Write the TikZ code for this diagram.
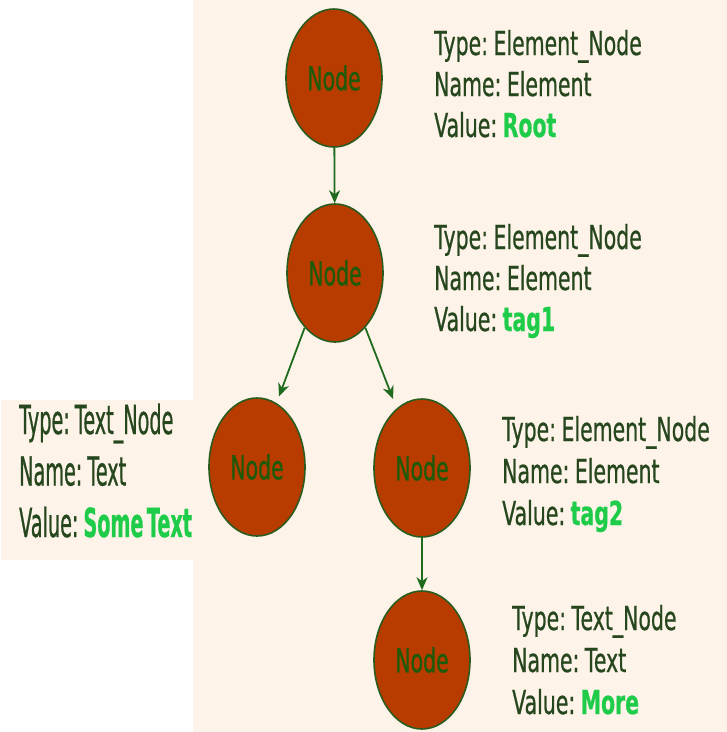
\documentclass[tikz,border=0pt]{standalone}
\usepackage{fontspec}
\usetikzlibrary{shapes.geometric,arrows.meta}
\newfontfamily\diagfont[FakeStretch=0.62, FakeBold=0.6, WordSpace=0.5]{DejaVu Sans}
\newfontfamily\tallfont[FakeStretch=0.48, FakeBold=0.6, WordSpace=0.5]{DejaVu Sans}
\definecolor{cream}{HTML}{FDF3E8}
\definecolor{rust}{HTML}{B83C00}
\definecolor{rim}{HTML}{2A5A1E}
\definecolor{nodetxt}{HTML}{1E5A0A}
\definecolor{txt}{HTML}{26461E}
\definecolor{val}{HTML}{1FCC4A}
\definecolor{edge}{HTML}{1E6B1E}
\tikzset{
  treenode/.style={ellipse, draw=rim, line width=1.6pt, fill=rust,
    minimum width=96pt, minimum height=138pt, inner sep=0pt,
    text=nodetxt, font=\diagfont\fontsize{33}{33}\selectfont},
  lbl/.style={anchor=base west, inner sep=0pt, text=txt,
    font=\diagfont\fontsize{33}{33}\selectfont},
  tall/.style={lbl/.append style={font=\tallfont\fontsize{40}{40}\selectfont}},
  link/.style={draw=edge, line width=1.8pt,
    -{Stealth[length=13pt,width=11pt,inset=4pt]}},
}
% info block: name, x, first baseline, line step, type, name, value
\newcommand\infoblock[7]{%
  \node[lbl] (#1a) at (#2,#3) {Type: #5};
  \node[lbl] (#1b) at (#2,{#3+#4}) {Name: #6};
  \node[lbl] (#1c) at (#2,{#3+2*#4}) {Value: \textcolor{val}{\bfseries #7}};
}
\begin{document}
\begin{tikzpicture}[x=1pt,y=-1pt]
  \fill[white] (0,0) rectangle (727,732);
  \useasboundingbox (0,0) rectangle (727,732);
  % cream panels
  \fill[cream] (193,0) rectangle (727,732);
  \fill[cream] (1,400) rectangle (193,560);

  % tree nodes
  \node[treenode] (n1) at (334,78)  {Node};
  \node[treenode] (n2) at (335,273) {Node};
  \node[treenode] (n3) at (257,467) {Node};
  \node[treenode] (n4) at (422,468) {Node};
  \node[treenode] (n5) at (422,660) {Node};

  % connectors
  \draw[link] (n1) -- (n2);
  \draw[link, shorten >=7pt] (n2.241) -- (n3.73);
  \draw[link, shorten >=10pt] (n2.299) -- (n4.113);
  \draw[link] (n4) -- (n5);

  % node descriptions
  \infoblock{d1}{434}{55}{41}{Element\_Node}{Element}{Root}
  \infoblock{d2}{434}{249}{41}{Element\_Node}{Element}{tag1}
  \begin{scope}[tall]
    \infoblock{d3}{19}{434}{51.5}{Text\_Node}{Text}{Some Text}
  \end{scope}
  \infoblock{d4}{502}{441}{42}{Element\_Node}{Element}{tag2}
  \infoblock{d5}{512}{630}{42}{Text\_Node}{Text}{More}
\end{tikzpicture}
\end{document}
